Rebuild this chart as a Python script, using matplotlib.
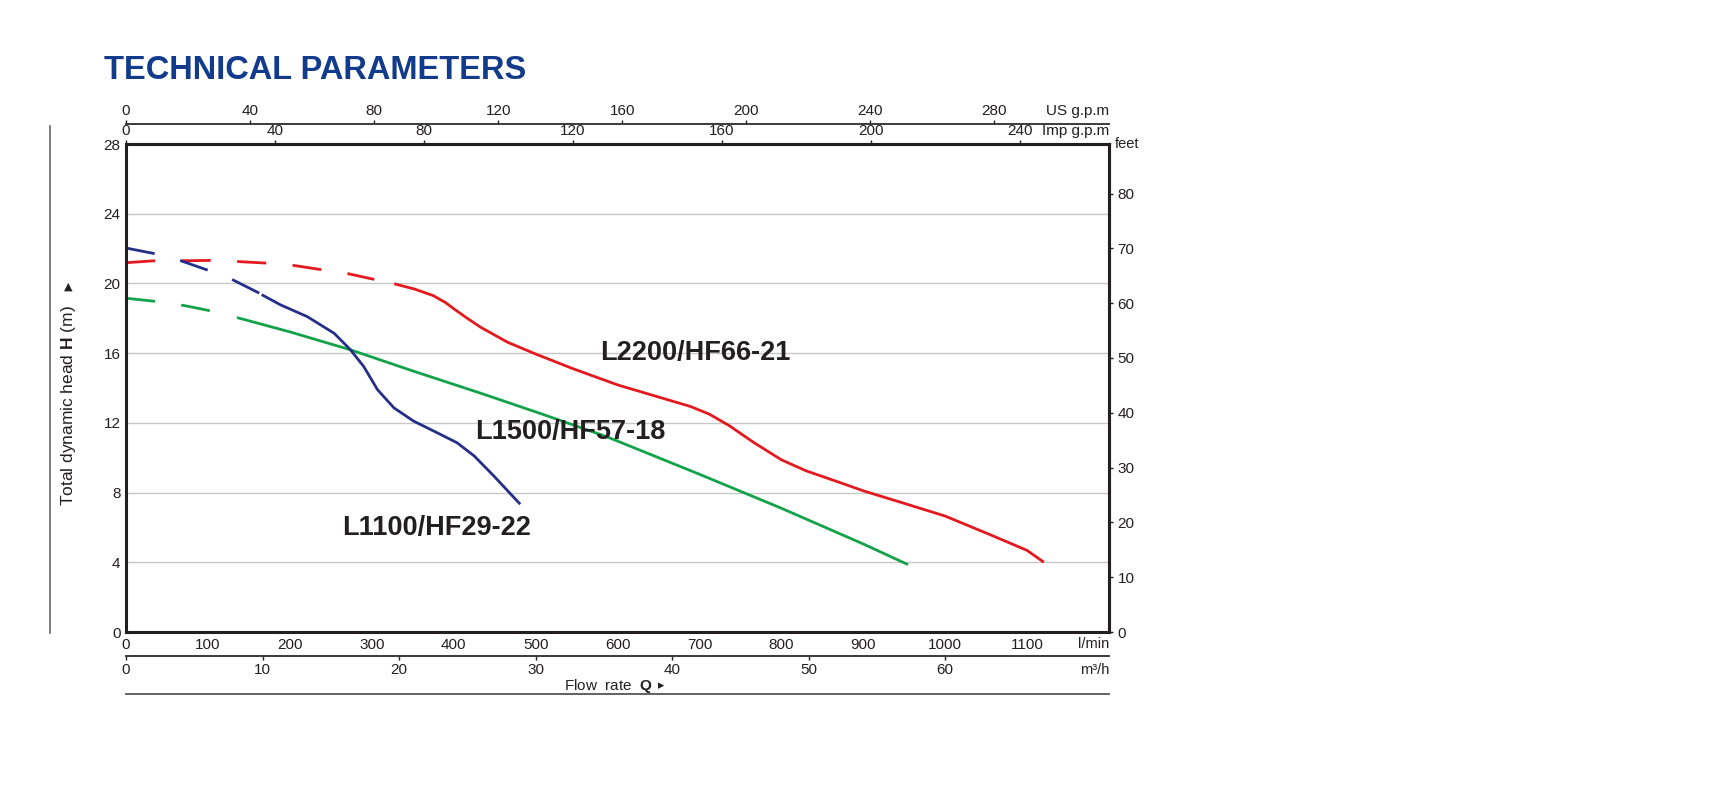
import matplotlib
matplotlib.use("Agg")
import matplotlib.pyplot as plt
from matplotlib.lines import Line2D

plt.rcParams['font.family'] = ['Liberation Sans', 'DejaVu Sans']
plt.rcParams['mathtext.fontset'] = 'custom'
plt.rcParams['mathtext.rm'] = 'Liberation Sans'
plt.rcParams['mathtext.bf'] = 'Liberation Sans:bold'

# flow in l/min, head in m
l2200_dash_q = [0, 35, 67, 102, 134, 170, 202, 237, 268, 303]
l2200_dash_h = [21.19, 21.30, 21.30, 21.32, 21.26, 21.17, 21.05, 20.80, 20.59, 20.23]
l2200_q = [329, 352, 375, 390, 400, 415, 433, 466, 500, 546, 600, 648, 689, 712, 736,
           767, 800, 830, 870, 900, 950, 1000, 1053, 1100, 1119]
l2200_h = [19.96, 19.68, 19.30, 18.90, 18.55, 18.05, 17.48, 16.62, 15.95, 15.10, 14.18,
           13.51, 12.94, 12.50, 11.85, 10.85, 9.88, 9.25, 8.60, 8.10, 7.38, 6.65, 5.62,
           4.68, 4.05]

l1500_dash_q = [0, 38, 71, 106]
l1500_dash_h = [19.15, 18.96, 18.73, 18.40]
l1500_q = [137, 200, 274, 350, 433, 505, 587, 700, 800, 900, 953]
l1500_h = [18.02, 17.22, 16.19, 14.98, 13.70, 12.55, 11.20, 9.05, 7.10, 5.05, 3.90]

l1100_dash_q = [0, 37, 67, 101]
l1100_dash_h = [22.03, 21.69, 21.30, 20.74]
l1100_q1 = [131, 161]
l1100_h1 = [20.19, 19.48]
l1100_q = [167, 189, 221, 254, 274, 290, 307, 327, 351, 376, 404, 425, 449, 480]
l1100_h = [19.32, 18.76, 18.10, 17.14, 16.19, 15.24, 13.90, 12.86, 12.10, 11.52,
           10.86, 10.10, 8.95, 7.39]

labels = ["L2200/HF66-21", "L1500/HF57-18", "L1100/HF29-22"]
label_q = [579, 426, 264]
label_h = [15.58, 11.09, 5.58]

lpm_ticks = list(range(0, 1101, 100))
head_ticks = list(range(0, 29, 4))
m3h_ticks = list(range(0, 61, 10))
us_ticks = list(range(0, 281, 40))
imp_ticks = list(range(0, 241, 40))
feet_ticks = list(range(0, 81, 10))

RED = '#e3191f'
GREEN = '#12a34a'
BLUE = '#262f88'
DARK = '#231f20'
GRID = '#c8c8c8'
FT_PER_M = 3.18

fig = plt.figure(figsize=(17.2, 8), dpi=100)
ax = fig.add_axes([0.0733, 0.21, 0.5715, 0.61])
ax.set_xlim(0, 1200)
ax.set_ylim(0, 28)
ax.set_xticks(lpm_ticks)
ax.set_xticks(list(range(0, 1201, 100)), minor=True)
ax.set_yticks(head_ticks)
ax.grid(True, which='minor', axis='x', color=GRID, lw=1.0)
ax.grid(True, which='major', axis='y', color=GRID, lw=1.0)
ax.tick_params(which='both', length=0, labelsize=11, colors=DARK, pad=4)
for s in ax.spines.values():
    s.set_linewidth(2.2)
    s.set_color(DARK)
ax.set_axisbelow(True)

dash = (0, (10.5, 9.5))
ax.plot(l2200_dash_q, l2200_dash_h, color=RED, lw=2, ls=dash)
ax.plot(l2200_q, l2200_h, color=RED, lw=2)
ax.plot(l1500_dash_q, l1500_dash_h, color=GREEN, lw=2, ls=dash)
ax.plot(l1500_q, l1500_h, color=GREEN, lw=2)
ax.plot(l1100_dash_q, l1100_dash_h, color=BLUE, lw=2, ls=dash)
ax.plot(l1100_q1, l1100_h1, color=BLUE, lw=2)
ax.plot(l1100_q, l1100_h, color=BLUE, lw=2)

for name, q, h in zip(labels, label_q, label_h):
    ax.text(q, h, name, fontsize=19.5, fontweight='bold', color=DARK,
            ha='left', va='baseline')

# extra scales
ax_imp = ax.secondary_xaxis('top', functions=(lambda q: q / 4.546, lambda g: g * 4.546))
ax_imp.set_xticks(imp_ticks)
ax_imp.tick_params(direction='out', length=3, width=1, pad=1, labelsize=11, colors=DARK)
ax_imp.spines['top'].set_linewidth(2.2)
ax_imp.spines['top'].set_color(DARK)

ax_us = ax.secondary_xaxis(1.041, functions=(lambda q: q / 3.785, lambda g: g * 3.785))
ax_us.set_xticks(us_ticks)
ax_us.tick_params(direction='out', length=3, width=1, pad=1, labelsize=11, colors=DARK)
ax_us.spines['top'].set_linewidth(1.4)
ax_us.spines['top'].set_color('#3a3a3a')

ax_m3 = ax.secondary_xaxis(-0.049, functions=(lambda q: q * 0.06, lambda v: v / 0.06))
ax_m3.set_xticks(m3h_ticks)
ax_m3.tick_params(direction='out', length=3, width=1, pad=2, labelsize=11, colors=DARK)
ax_m3.spines['bottom'].set_linewidth(1.4)
ax_m3.spines['bottom'].set_color('#3a3a3a')

ax_ft = ax.secondary_yaxis('right', functions=(lambda m: m * FT_PER_M, lambda f: f / FT_PER_M))
ax_ft.set_yticks(feet_ticks)
ax_ft.tick_params(direction='out', length=3, width=1, pad=3, labelsize=11, colors=DARK)
ax_ft.spines['right'].set_linewidth(2.2)
ax_ft.spines['right'].set_color(DARK)

ax.text(1.0, 1.053, "US g.p.m", transform=ax.transAxes, ha='right', va='bottom',
        fontsize=11, color=DARK)
ax.text(1.0, 1.012, "Imp g.p.m", transform=ax.transAxes, ha='right', va='bottom',
        fontsize=11, color=DARK)
ax.text(1.006, 1.0, "feet", transform=ax.transAxes, ha='left', va='center',
        fontsize=10.5, color=DARK)
ax.text(1.0, -0.011, "l/min", transform=ax.transAxes, ha='right', va='top',
        fontsize=10.5, color=DARK)
ax.text(1.0, -0.064, "m³/h", transform=ax.transAxes, ha='right', va='top',
        fontsize=10.5, color=DARK)
ax.text(0.491, -0.111, r"Flow  rate  $\mathbf{Q}$", transform=ax.transAxes,
        ha='center', va='center', fontsize=11, color=DARK)
ax.text(0.544, -0.110, "\u25b8", transform=ax.transAxes, ha='center', va='center',
        fontsize=9, color=DARK, family='DejaVu Sans')
ax.text(-0.059, 0.463, r"Total dynamic head $\mathbf{H}$ (m)", transform=ax.transAxes,
        ha='center', va='center', rotation=90, fontsize=12.5, color=DARK)
ax.text(-0.0585, 0.707, "\u25b2", transform=ax.transAxes, ha='center', va='center',
        fontsize=8, color=DARK, family='DejaVu Sans')

ax.add_line(Line2D([0, 1], [-0.127, -0.127], transform=ax.transAxes, clip_on=False,
                   color='#555555', lw=1.3))
fig.add_artist(Line2D([0.029, 0.029], [0.209, 0.8425], transform=fig.transFigure,
                      color='#666666', lw=1.2))

fig.text(0.0605, 0.901, "TECHNICAL PARAMETERS", fontsize=23.5, fontweight='bold',
         color='#133b8b', ha='left', va='baseline')

fig.savefig("out.png", dpi=100, facecolor='white')
